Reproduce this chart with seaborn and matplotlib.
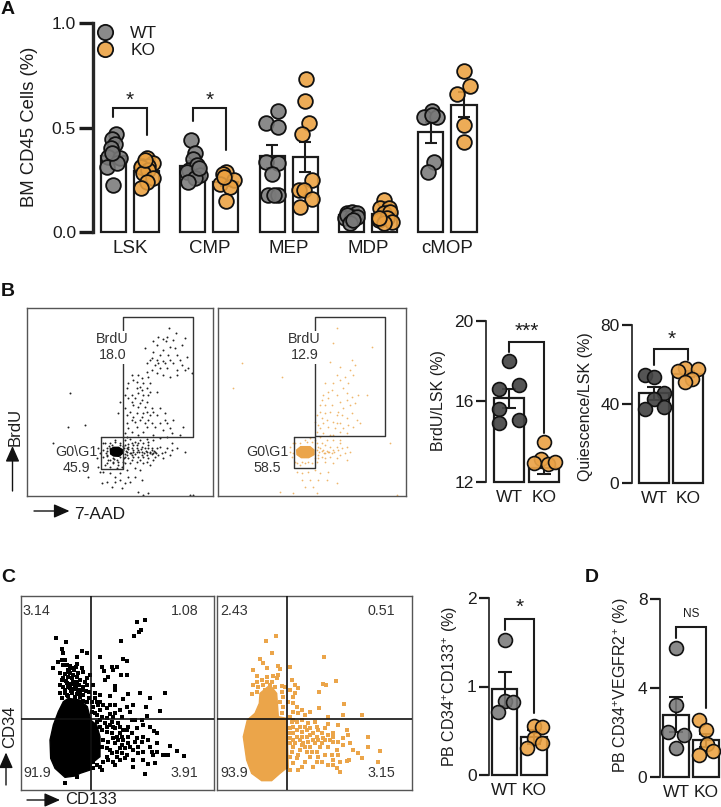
import pandas as pd
import matplotlib
matplotlib.use("Agg")
import matplotlib.pyplot as plt
from matplotlib.lines import Line2D
import seaborn as sns

W, H = 721, 807

# ---- panel A data
cells = ["LSK", "CMP", "MEP", "MDP", "cMOP"]
a_wt_mean = [0.363, 0.317, 0.363, 0.080, 0.477]
a_ko_mean = [0.291, 0.240, 0.360, 0.085, 0.610]
a_wt_err = [0.025, 0.020, 0.055, 0.010, 0.050]
a_ko_err = [0.020, 0.020, 0.072, 0.012, 0.058]
a_wt_vals = [
    [0.469, 0.443, 0.421, 0.400, 0.360, 0.352, 0.312, 0.328, 0.224, 0.376],
    [0.440, 0.376, 0.347, 0.296, 0.320, 0.288, 0.272, 0.256, 0.240, 0.304],
    [0.581, 0.523, 0.501, 0.336, 0.331, 0.277, 0.176, 0.176, 0.176],
    [0.088, 0.096, 0.088, 0.064, 0.072, 0.080, 0.072, 0.043, 0.056],
    [0.581, 0.549, 0.549, 0.560, 0.336, 0.288],
]
a_wt_jit = [
    [7, -4, 5, -7, -15, 20, -20, 10, 0, -5],
    [-6, 7, 0, -13, 12, -18, 20, 5, -16, 17],
    [18, -19, 18, -19, 18, 0, -14, 18, 5],
    [-15, 0, 17, -20, 0, -15, 15, -5, 5],
    [3, -20, 18, 3, 8, -9],
]
a_ko_vals = [
    [0.352, 0.317, 0.328, 0.317, 0.312, 0.296, 0.280, 0.259, 0.240, 0.211, 0.344],
    [0.288, 0.277, 0.248, 0.229, 0.216, 0.147, 0.264],
    [0.731, 0.629, 0.520, 0.467, 0.248, 0.200, 0.200, 0.155, 0.117],
    [0.152, 0.112, 0.112, 0.088, 0.096, 0.056, 0.064, 0.048, 0.040, 0.064],
    [0.771, 0.699, 0.661, 0.512, 0.429],
]
a_ko_jit = [
    [0, -15, 20, 5, -18, 5, -10, 18, 0, -18, -5],
    [0, -9, 23, -17, 11, 0, -5],
    [3, 0, 12, -10, 20, -20, -5, 20, -17],
    [-3, -13, 12, -3, 17, -18, 7, 22, -3, -18],
    [0, 18, -20, 0, 0],
]

# ---- two-bar panels
groups = ["WT", "KO"]
brdu_mean, brdu_err = [16.14, 12.68], [0.48, 0.28]
brdu_wt = [18.0, 16.6, 16.79, 15.6, 15.06, 14.9]
brdu_wt_jit = [0, -0.29, 0.29, -0.29, 0.29, -0.29]
brdu_ko = [13.99, 13.11, 12.91, 12.88, 12.98]
brdu_ko_jit = [0, -0.1, -0.29, 0.1, 0.31]

qui_mean, qui_err = [45.3, 55.0], [3.3, 1.5]
qui_wt = [54.6, 53.6, 45.3, 42.3, 38.6, 37.2]
qui_wt_jit = [-0.28, 0, 0.29, 0, 0.29, -0.28]
qui_ko = [58.2, 56.7, 57.7, 52.6, 51.2]
qui_ko_jit = [-0.1, -0.29, 0.29, 0.1, -0.1]

pb133_mean, pb133_err = [0.972, 0.426], [0.19, 0.08]
pb133_wt = [1.52, 0.84, 0.825, 0.716]
pb133_wt_jit = [0, 0, 0.27, -0.25]
pb133_ko = [0.557, 0.546, 0.42, 0.358, 0.30]
pb133_ko_jit = [0, 0.27, 0, 0.27, -0.25]

vegf_mean, vegf_err = [2.8, 1.64], [0.8, 0.3]
vegf_wt = [5.79, 3.22, 2.01, 1.89, 1.29]
vegf_wt_jit = [0, 0, -0.27, 0.26, 0]
vegf_ko = [2.57, 2.1, 1.47, 1.0, 1.17]
vegf_ko_jit = [-0.22, 0, 0.02, -0.22, 0.25]

# ---- flow events (channel units)
b1_upper = [(508,145),(528,160),(475,170),(488,178),(460,182),(497,182),(520,180),(555,175),(435,205),(510,200),(525,205),(560,230),(460,215),(480,225),(530,225),(450,240),(470,240),(490,242),(510,240),(440,250),(465,255),(520,250),(545,255),(565,265),(500,265),(480,265),(455,270),(530,270),(575,280),(395,285),(415,285),(445,290),(510,290),(400,300),(430,310),(450,310),(420,320),(440,325),(380,325),(395,345),(415,340),(430,345),(450,335),(470,335),(385,355),(425,360),(440,365),(400,375),(415,380),(435,380),(455,385),(375,385),(390,395),(480,385),(410,400),(430,400),(450,405),(470,405),(395,420),(420,420),(445,420),(495,420),(380,430),(410,440),(440,440),(465,440),(500,430),(520,420),(375,460),(395,455),(430,455),(510,445),(550,440),(540,465),(255,435),(205,440),(210,338),(360,365),(355,400),
            (500,170),(470,195),(545,195),(490,210),(505,225),(540,240),(475,250),(495,250),(455,235),(440,275),(470,280),(490,285),(530,285),(555,270),(410,305),(425,295),(385,310),(410,325),(425,330),(445,345),(405,355),(395,365),(420,370),(375,345),(380,405),(400,410),(425,410),(440,395),(460,395),(385,445),(405,425),(435,430),(455,430),(480,430),(490,450),(415,465),(460,465),(380,470),(495,400),(515,460)]
b1_lower = [(315,490),(330,490),(345,485),(360,490),(375,480),(390,478),(405,485),(420,480),(440,478),(460,480),(480,475),(500,470),(515,490),(530,505),(555,515),(160,490),(310,510),(320,505),(385,500),(395,505),(410,495),(425,500),(435,505),(445,495),(455,510),(465,515),(470,505),(480,500),(495,515),(510,525),(380,515),(390,520),(400,515),(415,510),(425,515),(440,515),(450,520),(460,518),(375,530),(385,535),(400,530),(415,530),(430,530),(445,535),(465,530),(490,535),(325,540),(340,545),(355,545),(370,545),(390,550),(410,545),(430,550),(450,555),(315,555),(330,560),(350,565),(365,560),(380,570),(405,565),(420,570),(310,575),(330,580),(345,590),(360,580),(385,590),(405,590),(425,600),(320,605),(345,605),(375,610),(305,610),(335,620),(365,625),(415,635),(445,640),(430,645),(570,645),(580,645),(290,535),(300,520),(295,505),(310,530),(320,525),(340,535),(360,530),(370,510),(380,505),(355,505),(330,505),(345,480),(375,495),(400,495),(265,590),
            (372,505),(378,512),(385,508),(392,518),(398,510),(405,522),(412,505),(418,515),(424,508),(431,520),(437,512),(443,505),(449,515),(455,522),(461,512),(467,520),(374,522),(382,526),(396,526),(410,515),(426,524),(441,524),(457,505),(385,492),(395,490),(415,490),(430,490),(445,485),(320,512),(322,528),(328,498),(335,495),(342,538),(352,540),(360,495),(368,498),(372,535),(318,518),(330,540),(340,550),(355,555),(322,550),(310,490),(375,550),(395,540),(420,540),(440,545),(460,540),(475,525),(485,520),(500,505),(515,510),(360,600),(390,605),(300,575),(295,560)]
b1_core = [(331,509),(340,502),(356,502),(367,509),(368,520),(357,529),(341,528),(332,522)]
b2_upper = [(1012,145),(1115,200),(1000,190),(990,245),(1055,240),(1065,255),(1010,285),(1050,270),(1060,285),(975,310),(1020,300),(1030,325),(1040,340),(995,330),(965,360),(985,355),(1010,345),(1055,350),(1075,345),(975,375),(960,395),(990,395),(1010,405),(1030,385),(1050,375),(950,405),(965,415),(980,420),(1000,425),(1020,430),(1040,415),(955,435),(985,440),(1005,445),(1030,445),(1060,440),(950,455),(970,460),(1000,465),(1040,460),(725,250),(700,325),(845,290),(1100,345),
            (1020,260),(1035,290),(1000,310),(985,335),(1045,310),(970,345),(960,375),(995,375),(1020,365),(1040,360),(1065,370),(945,425),(975,400),(1015,395),(1055,400),(1070,420),(960,445),(1025,405),(1045,435),(990,465),(1020,455),(1080,430),(1010,430),(970,430)]
b2_lower = [(885,490),(900,490),(920,485),(935,485),(950,490),(965,490),(980,480),(1000,480),(1020,490),(1040,500),(960,505),(970,510),(985,515),(975,520),(1000,510),(1015,510),(955,525),(965,530),(990,530),(1010,535),(880,520),(870,515),(885,545),(900,555),(915,550),(935,550),(950,545),(975,545),(1000,550),(1040,540),(1170,490),(890,575),(905,580),(925,575),(945,570),(960,580),(985,575),(905,600),(930,600),(955,600),(980,600),(915,620),(940,620),(840,635),(880,640),(950,640),(1010,610),(1190,645),(945,480),(960,470),(1020,480),
            (950,510),(958,515),(965,512),(972,518),(980,512),(988,515),(995,520),(1003,515),(955,500),(975,495),(990,500),(1010,500),(1025,505),(955,535),(975,535),(1020,525),(1035,520),(1050,515),(870,500),(875,530),(890,550),(905,545),(925,545),(945,535),(880,490),(915,480),(930,475)]
b2_core = [(890,510),(902,500),(930,500),(942,510),(942,524),(926,533),(904,533),(891,524)]

c1_points = [(436,151),(410,157),(422,181),(416,187),(401,198),(362,214),(168,203),(198,216),(186,238),(190,248),(246,242),(260,248),(230,262),(185,270),(175,275),(195,270),(300,260),(370,267),(380,272),(232,283),(210,287),(188,285),(160,295),(305,292),(335,290),(350,290),(338,300),(205,300),(180,310),(210,310),(235,310),(250,305),(270,315),(312,303),(325,320),(362,315),(380,315),(315,330),(190,325),(215,325),(240,330),(260,325),(200,340),(225,345),(180,345),(250,350),(345,348),(262,345),(195,360),(210,355),(235,360),(268,365),(345,360),(180,370),(420,368),(495,368),(300,375),(330,378),(385,372),(450,385),(370,388),(290,395),(345,405),(438,412),(480,422),(300,420),(330,432),(390,425),(440,438),(425,450),(405,450),(355,460),(385,470),(430,465),(462,482),(470,490),(340,470),(300,470),(360,490),(395,490),(430,500),(370,510),(405,515),(470,520),(510,527),(495,555),(530,543),(553,557),(505,555),(470,545),(450,530),(430,545),(415,530),(390,530),(380,555),(350,560),(340,575),(400,570),(430,570),(465,578),(445,582),(398,590),(435,613),(300,590),(305,600),(195,640),(230,620),(280,575),(330,540),(360,535),(320,560),(345,520),(385,500),(320,470),(285,430),(340,440),
             (200,375),(215,370),(230,372),(185,385),(250,375),(240,368),(222,358),(205,350),(190,352),(238,345),(220,335),(205,322),(230,320),(195,312),(222,300),(215,295),(200,285),(245,295),(255,335),(268,385),(275,395),(280,410),(285,385),(295,405),(310,405),(320,415),(278,345),(285,370),(300,395),(330,405),(275,425),(292,435),(305,440),(320,445),(335,455),(345,475),(360,470),(370,480),(290,455),(300,450),(315,460),(330,465),
             (305,480),(320,485),(335,490),(350,500),(310,510),(325,515),(340,505),(355,510),(365,525),(375,535),(385,520),(400,540),(305,530),(320,535),(335,550),(350,545),(365,550),(375,565),(310,575),(325,570),(345,585),(360,570),(290,585),(280,595),(410,505),(415,550),(425,515),(445,510),(455,545),(460,555),(490,555),(365,500),(380,480),(410,475),(450,470),(395,450),(365,440),(345,430),(360,420),(380,410),(400,405),
             (205,378),(225,380),(240,382),(195,368),(212,362),(228,352),(245,360),(258,362),(212,342),(232,335),(198,332),(218,315),(208,305),(228,290),(186,330),(250,392),(262,395)]
c1_blob = [(205,385),(240,390),(262,410),(272,450),(290,465),(300,500),(300,560),(275,580),(270,600),(240,610),(225,618),(195,622),(165,595),(152,565),(150,510),(160,465),(175,425),(190,395)]
c2_points = [(828,198),(797,212),(817,249),(781,268),(790,280),(800,295),(835,288),(840,298),(973,260),(760,300),(772,318),(800,320),(820,318),(835,315),(830,325),(870,290),(770,335),(790,345),(810,345),(825,350),(845,348),(855,350),(875,330),(885,345),(893,355),(885,368),(1008,333),(978,345),(970,342),(958,365),(755,372),(770,365),(880,380),(865,395),(905,420),(890,410),(958,415),(1032,402),(930,425),(880,425),(985,440),(1030,435),(1085,435),(870,440),(905,450),(925,460),(945,455),(900,470),(880,470),(880,490),(930,475),(950,470),(985,462),(1015,465),(1040,480),(1045,495),(900,510),(920,500),(940,510),(965,490),(985,495),(1000,515),(880,530),(900,540),(930,530),(960,530),(985,530),(1010,540),(1060,540),(1105,502),(1105,530),(1140,543),(1085,565),(1048,570),(1040,573),(1075,550),(1020,575),(985,585),(1000,585),(965,575),(940,590),(905,590),(895,600),(860,590),(870,560),(890,565),(930,560),(1020,605),(1010,595),(1135,575),(970,505),(905,525),(880,510),(870,505),(920,545),(950,545),(975,510),(955,510),(1000,490),(880,450),
             (775,350),(785,330),(800,335),(815,335),(795,360),(760,345),(845,365),(850,380),(840,395),(850,410),(845,430),(870,360),(880,400),(895,430),(915,435),(875,455),(890,455),(915,470),(870,475),(890,480),(905,485),(920,480),(940,490),(955,480),(975,475),(870,490),(890,500),(905,500),(930,495),(950,500),(990,510),(870,520),(885,520),(910,520),(925,515),(945,520),(965,520),(1015,515),(875,545),(895,555),(915,530),(935,545),(955,560),(975,555),(995,555),(1015,555),(880,580),(915,575),(950,575),(1000,570),(870,600),(1000,500),(1030,505),(1030,525),(1050,520)]
c2_blob = [(780,370),(810,345),(830,370),(835,440),(860,445),(865,590),(840,610),(815,632),(785,632),(755,610),(740,570),(730,500),(742,450),(765,430),(778,400)]

sns.set_theme(style="ticks")
plt.rcParams["font.family"] = ["Liberation Sans", "DejaVu Sans"]
plt.rcParams["mathtext.fontset"] = "custom"
plt.rcParams["mathtext.rm"] = "Liberation Sans"
plt.rcParams["mathtext.default"] = "rm"

INK = "#1c1c1c"
ORANGE = "#eba54a"
GREY_A = (0.48, 0.48, 0.48, 0.88)
ORANGE_A = (0.92, 0.63, 0.25, 0.88)
DARK_A = (0.27, 0.27, 0.27, 0.92)
ORANGE_B = (0.92, 0.64, 0.28, 0.92)

fig = plt.figure(figsize=(W / 100, H / 100), dpi=100, facecolor="white")


def px_axes(l, t, r, b):
    return fig.add_axes([l / W, 1 - b / H, (r - l) / W, (b - t) / H])


def finish_axis(ax, ylim, yticks, ylab, lab_xy, box, size=12.5, lab_size=11.5):
    l, t, r, b = box
    ax.set_ylim(*ylim)
    ax.set_yticks(yticks)
    for s in ["top", "right", "bottom"]:
        ax.spines[s].set_visible(False)
    ax.set_xlabel("")
    ax.set_ylabel(ylab, fontsize=lab_size, color=INK, va="center")
    ax.yaxis.set_label_coords((lab_xy[0] - l) / (r - l), (b - lab_xy[1]) / (b - t))
    ax.tick_params(axis="x", length=0, labelsize=size, pad=6, colors=INK)
    ax.tick_params(axis="y", length=7, width=1.6, labelsize=size, pad=2, colors=INK)
    ax.patch.set_alpha(0)


def bracket(ax, x0, x1, y0, top, y1, lw=1.5):
    ax.plot([x0, x0, x1, x1], [y0, top, top, y1], color=INK, lw=lw, clip_on=False,
            solid_joinstyle="miter", zorder=5)


def two_bars(box, means, errs, wt, wt_j, ko, ko_j, ylim, yticks, ylab, lab_xy, xlim,
             width, wt_col, ko_col, br, mark, mark_y, mark_size=15):
    ax = px_axes(*box)
    d = pd.DataFrame({"group": groups, "mean": means})
    sns.barplot(data=d, x="group", y="mean", color="white", width=width, edgecolor=INK,
                linewidth=1.6, errorbar=None, ax=ax)
    for p in ax.patches:
        p.set_y(ylim[0])
        p.set_height(p.get_height() - ylim[0])
        p.set_clip_on(False)
    ax.errorbar([0, 1], means, yerr=errs, fmt="none", ecolor=INK, elinewidth=1.5,
                capsize=5, capthick=1.5, zorder=2)
    pts = pd.DataFrame({"x": wt_j, "y": wt})
    sns.scatterplot(data=pts, x="x", y="y", color=wt_col, edgecolor="#111111", linewidth=1.2,
                    s=100, clip_on=False, zorder=3, ax=ax)
    pts = pd.DataFrame({"x": [1 + j for j in ko_j], "y": ko})
    sns.scatterplot(data=pts, x="x", y="y", color=ko_col, edgecolor="#111111", linewidth=1.2,
                    s=100, clip_on=False, zorder=3, ax=ax)
    ax.set_xlim(*xlim)
    finish_axis(ax, ylim, yticks, ylab, lab_xy, box)
    bracket(ax, 0, 1, *br)
    ax.text(0.5, mark_y, mark, ha="center", va="center", fontsize=mark_size, color=INK, clip_on=False)
    return ax


# ---- panel A
box_a = (92.7, 23.3, 480, 231.7)
ax = px_axes(*box_a)
df_a = pd.DataFrame({
    "cell": cells * 2,
    "geno": ["WT"] * 5 + ["KO"] * 5,
    "mean": a_wt_mean + a_ko_mean,
})
sns.barplot(data=df_a, x="cell", y="mean", hue="geno", palette={"WT": "white", "KO": "white"},
            width=0.832, gap=0.24, edgecolor=INK, linewidth=1.6, errorbar=None, legend=False, ax=ax)
for p in ax.patches:
    p.set_clip_on(False)
DODGE = 0.208
for i in range(5):
    ax.errorbar([i - DODGE], [a_wt_mean[i]], yerr=[a_wt_err[i]], fmt="none", ecolor=INK,
                elinewidth=1.5, capsize=4, capthick=1.5, zorder=2)
    ax.errorbar([i + DODGE], [a_ko_mean[i]], yerr=[a_ko_err[i]], fmt="none", ecolor=INK,
                elinewidth=1.5, capsize=4, capthick=1.5, zorder=2)
    d = pd.DataFrame({"x": [i - DODGE + j / 238 for j in a_wt_jit[i]], "y": a_wt_vals[i]})
    sns.scatterplot(data=d, x="x", y="y", color=GREY_A, edgecolor="#111111", linewidth=1.3,
                    s=112, clip_on=False, zorder=3, ax=ax)
    d = pd.DataFrame({"x": [i + DODGE + j / 238 for j in a_ko_jit[i]], "y": a_ko_vals[i]})
    sns.scatterplot(data=d, x="x", y="y", color=ORANGE_A, edgecolor="#111111", linewidth=1.3,
                    s=112, clip_on=False, zorder=3, ax=ax)
ax.set_xlim(-0.47, 4.41)
finish_axis(ax, (0, 1), [0, 0.5, 1], "BM CD45 Cells (%)", (29.3, 127.3), box_a, lab_size=13.3)
ax.tick_params(axis="x", labelsize=13.5)
ax.tick_params(axis="y", length=10, width=2.4)
ax.spines["left"].set_linewidth(2.4)
bracket(ax, -DODGE, DODGE, 0.548, 0.592, 0.464)
bracket(ax, 1 - DODGE, 1 + DODGE, 0.533, 0.592, 0.392)
for i in [0, 1]:
    ax.text(i, 0.63, "*", ha="center", va="center", fontsize=15, color=INK)
handles = [
    Line2D([], [], marker="o", ls="", markersize=11, mfc=GREY_A, mec="#111111", mew=1.3, label="WT"),
    Line2D([], [], marker="o", ls="", markersize=11, mfc=ORANGE_A, mec="#111111", mew=1.3, label="KO"),
]
ax.legend(handles=handles, frameon=False, fontsize=12.5, loc="upper left", bbox_to_anchor=(-0.026, 1.054),
          handlelength=1, handletextpad=0.94, labelspacing=0.1, borderpad=0.3, labelcolor=INK)

# ---- bar panels B, C, D
two_bars((486, 320.7, 563, 481.7), brdu_mean, brdu_err, brdu_wt, brdu_wt_jit, brdu_ko, brdu_ko_jit,
         (12, 20), [12, 16, 20], "BrdU/LSK (%)", (439, 400.7), (-0.667, 1.536), 0.857,
         DARK_A, ORANGE_B, (18.46, 18.96, 14.4), "***", 19.45)
two_bars((632, 325, 710, 482.7), qui_mean, qui_err, qui_wt, qui_wt_jit, qui_ko, qui_ko_jit,
         (0, 80), [0, 40, 80], "Quiescence/LSK (%)", (585.7, 406.7), (-0.657, 1.64), 0.88,
         DARK_A, ORANGE_B, (59.7, 67.7, 62.2), "*", 72.5)
two_bars((489.3, 598, 556, 775), pb133_mean, pb133_err, pb133_wt, pb133_wt_jit, pb133_ko, pb133_ko_jit,
         (0, 2), [0, 1, 2], r"PB CD34$^{+}$CD133$^{+}$ (%)", (450, 686.7), (-0.533, 1.757), 0.867,
         GREY_A, ORANGE_A, (1.638, 1.763, 0.697), "*", 1.9)
two_bars((660, 599.3, 721, 776.7), vegf_mean, vegf_err, vegf_wt, vegf_wt_jit, vegf_ko, vegf_ko_jit,
         (0, 8), [0, 4, 8], r"PB CD34$^{+}$VEGFR2$^{+}$ (%)", (621, 685), (-0.55, 1.507), 0.865,
         GREY_A, ORANGE_A, (6.24, 6.74, 3.08), "NS", 7.34, mark_size=8.5)


# ---- flow panels
def flow_axes(box, xlim, ylim):
    ax = px_axes(*box)
    ax.set_xlim(*xlim)
    ax.set_ylim(*ylim)
    ax.set_xticks([])
    ax.set_yticks([])
    for s in ax.spines.values():
        s.set_linewidth(1.0)
        s.set_color("#555555")
    return ax


def dots(ax, pts, color, s, alpha=1.0, marker="o"):
    d = pd.DataFrame(pts, columns=["x", "y"])
    sns.scatterplot(data=d, x="x", y="y", color=color, s=s, linewidth=0, marker=marker, alpha=alpha,
                    ax=ax, zorder=2)
    ax.set_xlabel("")
    ax.set_ylabel("")


def label(ax, x, y, txt, size=10.3):
    ax.text(x, y, txt, ha="center", va="center", fontsize=size, color="#333333", zorder=4)


def gate_b(ax, x0, x1, y_top, y_mid, bx0, by0, by1):
    ax.plot([x0, x0, x1, x1, x0], [y_mid, y_top, y_top, y_mid, y_mid], color="#333333", lw=1.0, zorder=3)
    ax.plot([bx0, x0, x0, bx0, bx0], [by0, by0, by1, by1, by0], color="#333333", lw=1.0, zorder=3)


b1 = flow_axes((26.7, 308.3, 213.3, 496), (80, 640), (648, 85))
gate_b(b1, 370, 578, 110, 470, 304, 472, 566)
dots(b1, b1_upper + b1_lower, "#222222", 2.0)
b1.fill(*zip(*b1_core), color="#000000", zorder=2)
for t in [(338, 177, "BrdU"), (338, 226, "18.0")]:
    b1.text(t[0], t[1], t[2], ha="center", va="center", fontsize=10.3, color="#333333", zorder=4,
            bbox=dict(fc="white", ec="none", pad=1))
label(b1, 228, 517, "G0\\G1")
label(b1, 228, 565, "45.9")

b2 = flow_axes((218.3, 308.3, 405.7, 496), (655, 1217), (648, 85))
gate_b(b2, 946, 1155, 110, 468, 881, 470, 565)
dots(b2, b2_upper + b2_lower, ORANGE, 1.6, alpha=0.8)
b2.fill(*zip(*b2_core), color=ORANGE, zorder=2)
for t in [(913, 177, "BrdU"), (913, 226, "12.9")]:
    b2.text(t[0], t[1], t[2], ha="center", va="center", fontsize=10.3, color="#333333", zorder=4,
            bbox=dict(fc="white", ec="none", pad=1))
label(b2, 803, 515, "G0\\G1")
label(b2, 803, 565, "58.5")

c1 = flow_axes((20.7, 595.7, 214.3, 790), (62, 643), (660, 77))
dots(c1, c1_points, "#000000", 6.5, marker="s")
c1.fill(*zip(*c1_blob), color="#000000", zorder=2)
c1.axvline(272, color="#111111", lw=1.2, zorder=3)
c1.axhline(447, color="#111111", lw=1.2, zorder=3)
for x, y, t in [(110, 124, "3.14"), (553, 124, "1.08"), (110, 610, "91.9"), (553, 610, "3.91")]:
    label(c1, x, y, t)

c2 = flow_axes((217.3, 595.7, 411.7, 790), (652, 1235), (660, 77))
dots(c2, c2_points, ORANGE, 6.5, marker="s")
c2.fill(*zip(*c2_blob), color=ORANGE, zorder=2)
c2.axvline(862, color="#111111", lw=1.2, zorder=3)
c2.axhline(447, color="#111111", lw=1.2, zorder=3)
for x, y, t in [(702, 124, "2.43"), (1143, 124, "0.51"), (702, 610, "93.9"), (1143, 610, "3.15")]:
    label(c2, x, y, t)

# ---- overlay for panel letters and arrows
ov = fig.add_axes([0, 0, 1, 1], zorder=10)
ov.set_xlim(0, W)
ov.set_ylim(H, 0)
ov.axis("off")
for x, y, t in [(1, 9, "A"), (1, 291.5, "B"), (1, 578, "C"), (585, 578, "D")]:
    ov.text(x, y, t, fontsize=14, fontweight="bold", color="#111111", ha="left", va="center")


def arrow(x0, y0, x1, y1):
    ov.annotate("", xy=(x1, y1), xytext=(x0, y0),
                arrowprops=dict(arrowstyle="-|>,head_length=0.95,head_width=0.42", color="#111111",
                                lw=1.0, shrinkA=0, shrinkB=0, mutation_scale=10))


arrow(12.5, 491, 12.5, 446)
ov.text(15.5, 427, "BrdU", rotation=90, fontsize=12, color=INK, ha="center", va="center")
arrow(34, 511, 69.5, 511)
ov.text(100, 514.5, "7-AAD", fontsize=12.5, color=INK, ha="center", va="center")
arrow(6, 785, 6, 752.5)
ov.text(10, 727, "CD34", rotation=90, fontsize=12, color=INK, ha="center", va="center")
arrow(27, 800, 60, 800)
ov.text(91.5, 799, "CD133", fontsize=12, color=INK, ha="center", va="center")

fig.savefig("out.png", dpi=100)
